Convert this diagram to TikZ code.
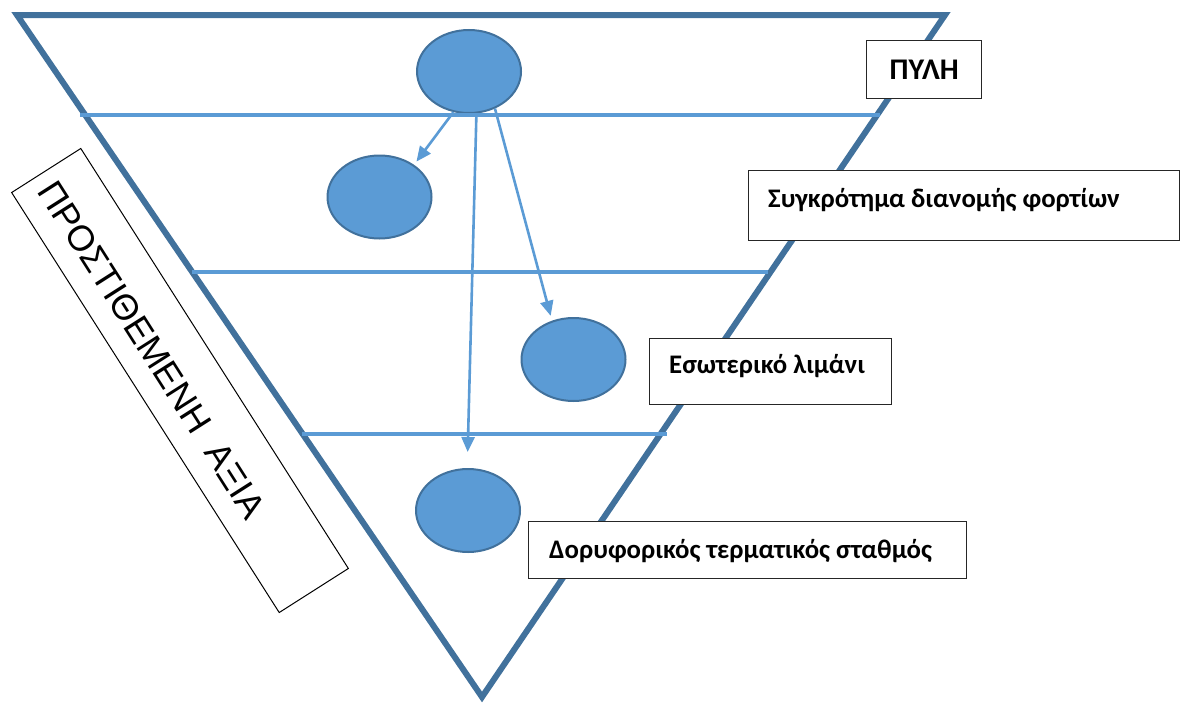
\documentclass[tikz,border=0pt]{standalone}
\usepackage{fontspec}
\setmainfont{Carlito}
\newfontfamily\arialfont{Liberation Sans}
\usetikzlibrary{arrows.meta,calc,shapes.geometric}

\definecolor{edgeblue}{HTML}{41719C}
\definecolor{fillblue}{HTML}{5B9BD5}

\tikzset{
  tri/.style={draw=edgeblue, line width=6pt, line join=miter},
  tier/.style={draw=fillblue, line width=4pt},
  stage/.style={ellipse, draw=edgeblue, fill=fillblue, line width=2pt,
    minimum width=104pt, minimum height=83pt, inner sep=0pt},
  flow/.style={draw=fillblue, line width=2.6pt,
    -{Triangle[length=15pt,width=13pt]}},
  labelbox/.style={draw=black!85, line width=1.3pt, fill=white,
    inner sep=0pt, anchor=north west},
  labeltext/.style={font=\fontsize{26.8}{30}\selectfont\bfseries,
    inner sep=0pt, anchor=base west},
  valuebox/.style={draw=black, line width=1pt, fill=white,
    minimum width=498pt, minimum height=82pt, transform shape},
  valuetext/.style={font=\arialfont\fontsize{36}{40}\selectfont,
    inner sep=0pt, transform shape}
}

\begin{document}
\begin{tikzpicture}[x=1pt, y=1pt]
  \useasboundingbox (0,0) rectangle (1190,-704);

  % inverted triangle
  \draw[tri] (17,-15) -- (945,-15) -- (482,-697) -- cycle;

  % stages
  \node[stage] (e1) at (469,-71.5) {};
  \node[stage] (e2) at (379.5,-197) {};
  \node[stage] (e3) at (573.5,-359.5) {};
  \node[stage] (e4) at (468,-510.5) {};

  % tier separators
  \draw[tier] (80,-115) -- (880,-115);
  \draw[tier] (192,-272) -- (768,-272);
  \draw[tier] (302,-434) -- (667,-434);

  % flows from the gate
  \draw[flow, shorten >=4pt] (e1.249.5) -- (e2.43);
  \draw[flow, shorten >=16pt] (e1.280.4) -- (e4.91);
  \draw[flow, shorten >=5pt] (e1.305.5) -- (e3.119.4);

  % labels
  \node[labelbox, minimum width=115pt, minimum height=58pt,
        font=\fontsize{30}{32}\selectfont\bfseries] (b1) at (866,-40) {ΠΥΛΗ};
  \node[labelbox, minimum width=431pt, minimum height=70pt] (b2) at (748,-170) {};
  \node[labeltext] (t2) at ($(b2.north west)+(20,-37)$) {Συγκρότημα διανομής φορτίων};
  \node[labelbox, minimum width=242pt, minimum height=66pt] (b3) at (649,-338) {};
  \node[labeltext] (t3) at ($(b3.north west)+(20,-35)$) {Εσωτερικό λιμάνι};
  \node[labelbox, minimum width=438pt, minimum height=57pt] (b4) at (528,-521) {};
  \node[labeltext] (t4) at ($(b4.north west)+(21,-37)$) {Δορυφορικός τερματικός σταθμός};

  % added value banner
  \begin{scope}[shift={(180,-380.5)}, rotate=-57.5]
    \node[valuebox] (va) at (0,0) {};
    \node[valuetext] (vat) at (-41,-7) {ΠΡΟΣΤΙΘΕΜΕΝΗ\ \ ΑΞΙΑ};
  \end{scope}
\end{tikzpicture}
\end{document}
